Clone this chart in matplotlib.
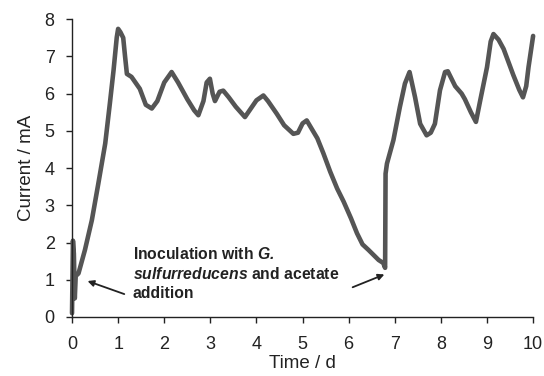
import matplotlib
matplotlib.use('Agg')
import matplotlib.pyplot as plt

plt.rcParams['font.family'] = ['Liberation Sans', 'DejaVu Sans']
plt.rcParams['mathtext.fontset'] = 'custom'
plt.rcParams['mathtext.bfit'] = 'Liberation Sans:italic:bold'

# current trace (time in days, current in mA)
time_d = [0, 0.02, 0.04, 0.06, 0.08, 0.14, 0.28, 0.43, 0.57, 0.72, 0.82, 0.9, 0.97, 1.0,
          1.05, 1.11, 1.15, 1.19, 1.29, 1.47, 1.6, 1.73, 1.85, 2.0, 2.16, 2.3, 2.5, 2.65,
          2.74, 2.85, 2.92, 2.99, 3.05, 3.1, 3.14, 3.2, 3.28, 3.4, 3.55, 3.75,
          3.85, 4.0, 4.15, 4.25, 4.44, 4.6, 4.8, 4.9, 5.0, 5.09, 5.2, 5.32, 5.45, 5.6, 5.75,
          5.89, 6.05, 6.18, 6.3, 6.43, 6.65, 6.75, 6.79, 6.8, 6.83, 6.97, 7.11, 7.22, 7.32,
          7.44, 7.55, 7.69, 7.78, 7.87, 7.98, 8.09, 8.15, 8.31, 8.45, 8.52, 8.65, 8.76,
          8.85, 9.0, 9.08, 9.14, 9.25, 9.36, 9.57, 9.7, 9.78, 9.85, 9.9, 10.0]
current_ma = [0.1, 2.05, 1.7, 0.5, 1.1, 1.17, 1.8, 2.6, 3.58, 4.66, 5.73, 6.62, 7.51, 7.74,
              7.65, 7.5, 7.0, 6.53, 6.45, 6.13, 5.7, 5.6, 5.8, 6.3, 6.58, 6.3, 5.85, 5.55,
              5.42, 5.8, 6.3, 6.4, 6.0, 5.8, 5.9, 6.05, 6.08, 5.9, 5.65, 5.37,
              5.55, 5.82, 5.95, 5.8, 5.46, 5.15, 4.92, 4.95, 5.2, 5.28, 5.05, 4.8, 4.4, 3.9, 3.45,
              3.1, 2.65, 2.25, 1.95, 1.8, 1.53, 1.45, 1.32, 3.85, 4.12, 4.75, 5.64, 6.27, 6.58,
              5.9, 5.19, 4.88, 4.95, 5.19, 6.09, 6.58, 6.6, 6.2, 6.0, 5.85, 5.5, 5.24,
              5.8, 6.71, 7.4, 7.6, 7.45, 7.2, 6.5, 6.1, 5.9, 6.2, 6.71, 7.55]

fig = plt.figure(figsize=(5.44, 3.76), dpi=100)
ax = fig.add_axes([0.1324, 0.157, 0.8476, 0.792])

ax.plot(time_d, current_ma, color='#555555', lw=3.3, solid_joinstyle='round',
        solid_capstyle='round', clip_on=False)

ax.set_xlim(0, 10)
ax.set_ylim(0, 8)
ax.set_xticks(range(0, 11))
ax.set_yticks(range(0, 9))
ax.spines['top'].set_visible(False)
ax.spines['right'].set_visible(False)
for s in ['left', 'bottom']:
    ax.spines[s].set_linewidth(1.0)
    ax.spines[s].set_color('#222222')
ax.tick_params(direction='out', length=4.5, width=1.0, labelsize=13, colors='#222222')
ax.tick_params(axis='x', pad=9)
ax.tick_params(axis='y', pad=8)
ax.set_xlabel('Time / d', fontsize=13.5, labelpad=2, color='#222222')
ax.set_ylabel('Current / mA', fontsize=13.5, labelpad=7, color='#222222')

ax.text(1.32, 1.9,
        'Inoculation with $\\mathbfit{G.}$\n$\\mathbfit{sulfurreducens}$ and acetate\naddition',
        fontsize=11.3, fontweight='bold', ha='left', va='top', linespacing=1.3,
        color='#222222')
ax.annotate('', xy=(0.28, 0.99), xytext=(1.19, 0.59),
            arrowprops=dict(arrowstyle='-|>', color='#222222', lw=1.3, mutation_scale=9))
ax.annotate('', xy=(6.83, 1.17), xytext=(6.03, 0.77),
            arrowprops=dict(arrowstyle='-|>', color='#222222', lw=1.3, mutation_scale=9))

fig.savefig('out.png', dpi=100)
